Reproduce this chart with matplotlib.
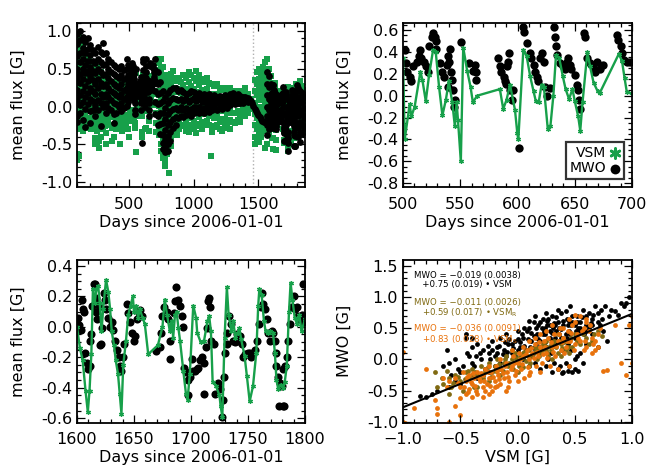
import matplotlib
matplotlib.use("Agg")
import matplotlib.pyplot as plt
from matplotlib.ticker import MultipleLocator, FormatStrFormatter

GREEN = '#17a04a'
OLIVE = '#806a12'
ORANGE = '#e8720c'

# ---- panel b: days 500-700 ----
vsm_b_day = [500, 501.5, 505.8, 507.3, 510.2, 515.2, 517, 519.9, 522.8, 526.3, 528.6, 531.5, 534.4,
             537.4, 540, 543, 545.3, 546.8, 548, 550.5, 552.6, 556, 559, 561, 564.8, 584.6, 587.5,
             590.4, 593.4, 597.8, 599.8, 600.7, 605.1, 608, 611, 614, 616, 618.5, 621, 623, 626.4,
             628.7, 631.3, 633.6, 636.5, 639.5, 642, 645, 648, 650, 653, 654.8, 656.8, 661, 663.3,
             666.4, 670, 671.6, 688.4, 691.2, 693.5, 695.5, 700]
vsm_b_val = [0.34, -0.40, -0.08, -0.19, -0.10, 0.22, 0.14, -0.05, 0.19, 0.42, 0.40, 0.08, -0.18,
             -0.04, 0.13, -0.06, -0.28, -0.06, -0.22, -0.60, 0.44, 0.23, 0.08, -0.06, 0.0, 0.06, -0.12,
             -0.04, 0.10, -0.13, -0.34, -0.40, 0.42, 0.36, 0.18, 0.04, -0.05, -0.06, 0.10, 0.08, -0.30,
             -0.28, 0.0, 0.37, 0.34, 0.18, 0.06, -0.03, 0.06, -0.05, -0.19, -0.32, -0.06, 0.40, 0.27,
             0.12, 0.04, 0.02, 0.38, 0.32, 0.16, 0.03, 0.02]
mwo_b_day = [501.5, 503, 503.5, 506, 507, 509, 514.6, 514, 512, 516, 518, 520, 522, 523, 525, 526,
             528, 528.5, 529, 532, 534, 536, 538, 539, 541, 541.5, 543, 544, 545, 544.4, 540.5, 539.5,
             551, 558, 561, 563, 564, 563.5, 583, 585, 586, 588, 589, 591, 592, 593, 590, 593.5, 595,
             596, 601, 605, 606, 608, 611, 612, 614, 615, 617, 618, 620, 621, 623, 624, 626, 628, 632,
             633, 634, 634.5, 637, 640, 641.6, 643, 644.5, 646, 647, 650, 652, 653, 654, 655, 658, 659,
             661, 663.5, 666, 668, 669, 672, 675, 687, 688, 690, 691, 693, 696, 698]
mwo_b_val = [0.42, 0.30, 0.22, 0.17, 0.13, 0.27, 0.42, 0.36, 0.31, 0.34, 0.31, 0.27, 0.22, 0.45, 0.54,
             0.57, 0.54, 0.50, 0.43, 0.30, 0.22, 0.17, 0.28, 0.36, 0.43, 0.22, 0.14, 0.05, -0.04, -0.10,
             0.31, 0.08, 0.49, 0.30, 0.23, 0.28, 0.22, 0.14, 0.34, 0.27, 0.22, 0.17, 0.13, 0.27, 0.31,
             0.39, 0.11, 0.05, -0.04, 0.05, -0.48, 0.63, 0.58, 0.48, 0.39, 0.34, 0.28, 0.22, 0.17, 0.13,
             0.34, 0.39, 0.31, 0.08, 0.0, 0.07, 0.63, 0.54, 0.45, 0.37, 0.30, 0.27, 0.24, 0.31, 0.34,
             0.28, 0.24, 0.19, 0.10, 0.05, -0.04, -0.12, 0.57, 0.54, 0.34, 0.30, 0.27, 0.22, 0.31, 0.24,
             0.28, 0.55, 0.51, 0.45, 0.39, 0.33, 0.31, 0.31]

# ---- panel c: days 1600-1800 ----
vsm_c_day = [1600, 1602.6, 1605, 1607.5, 1609.5, 1611, 1612.6, 1614, 1615.6, 1617, 1618.6, 1620, 1621.5,
             1623, 1625.5, 1627.5, 1629, 1630.5, 1632.5, 1634, 1636, 1637.5, 1639, 1640.6, 1643, 1645,
             1647, 1649, 1650, 1651.7, 1653.7, 1655, 1657.5, 1659.5, 1662.5, 1671, 1675, 1677, 1679,
             1681.5, 1683, 1684.4, 1686, 1687.4, 1689, 1690.4, 1693.3, 1695.6, 1697, 1699, 1702, 1704.5,
             1705.5, 1708.5, 1711.5, 1714.5, 1716, 1717.5, 1719, 1722, 1725, 1726, 1727.5, 1729.5,
             1731.5, 1733, 1735.5, 1737, 1739, 1741, 1742.5, 1744, 1747, 1749, 1751.5, 1754.4, 1757.3,
             1759, 1760, 1762, 1764, 1765.5, 1767.6, 1769.6, 1772, 1773.6, 1775, 1776.6, 1778.6, 1781,
             1782.3, 1784, 1786, 1787.4, 1789, 1791, 1793, 1795, 1797, 1800]
vsm_c_val = [0.0, -0.14, -0.22, -0.42, -0.56, -0.42, -0.18, 0.25, 0.16, 0.25, 0.27, 0.16, -0.03,
             0.12, 0.31, 0.23, 0.12, -0.03, -0.12, -0.22, -0.31, -0.44, -0.57, -0.25, -0.09, 0.08,
             0.14, 0.20, 0.10, 0.14, 0.06, 0.12, 0.06, 0.02, -0.18, -0.12, 0.0, 0.18, 0.08,
             -0.03, 0.04, -0.07, 0.08, 0.10, -0.01, -0.09, -0.29, -0.44, -0.48, -0.31, 0.14, 0.06,
             -0.04, -0.10, -0.09, 0.04, 0.07, -0.03, -0.36, -0.39, -0.45, -0.52, -0.59, -0.07,
             0.26, 0.08, -0.03, 0.04, -0.07, -0.04, -0.01, -0.08, -0.19, -0.32, -0.49, -0.39, -0.17,
             0.14, 0.25, 0.21, 0.04, -0.03, -0.04, -0.03, -0.04, -0.17, -0.35, -0.41, -0.38, -0.40,
             -0.36, -0.26, 0.10, 0.29, 0.18, 0.06, 0.02, 0.08, -0.03, 0.05]
mwo_c_day = [1600.6, 1602, 1603.5, 1604, 1605, 1606.4, 1607, 1609, 1610, 1611, 1611.7, 1612.6, 1613,
             1614.6, 1616, 1617, 1616.5, 1617.5, 1619, 1620, 1621, 1622, 1623.4, 1625, 1625.7, 1627,
             1629, 1630.7, 1631.5, 1633.6, 1635, 1636.5, 1638, 1639, 1640, 1641, 1644, 1645, 1646.7,
             1648, 1649.6, 1651, 1652.6, 1654, 1655.5, 1657, 1669.5, 1672.4, 1673.6, 1674.5, 1676,
             1679, 1680, 1681.8, 1682, 1684.7, 1686, 1687, 1689, 1690.5, 1692, 1693.4, 1694.3, 1695.5,
             1697, 1697.8, 1699, 1700.7, 1702, 1703.6, 1705, 1706.6, 1708, 1709.5, 1711, 1711.5, 1713,
             1714, 1715, 1716, 1717, 1717.5, 1720, 1721, 1724, 1725.5, 1727, 1728.5, 1729, 1730,
             1731.4, 1732, 1733.7, 1735, 1736.6, 1738.7, 1740, 1741.6, 1743, 1744.5, 1746, 1747.4,
             1749, 1750.4, 1752, 1753, 1754.7, 1756, 1757.7, 1760, 1761, 1762, 1763.5, 1765, 1766.4,
             1768, 1769, 1771, 1772, 1773.7, 1774.6, 1775, 1776.6, 1778, 1779.6, 1776.8, 1780.4,
             1781.6, 1781, 1782.5, 1784, 1785.4, 1787, 1788.3, 1790, 1791, 1792.7, 1794, 1795.6, 1797,
             1798.5, 1798]
mwo_c_val = [0.06, 0.01, -0.02, 0.18, 0.12, 0.10, -0.17, -0.24, -0.28, -0.26, -0.09, -0.05, 0.14,
             0.28, 0.28, 0.19, 0.10, 0.05, 0.14, -0.12, -0.11, -0.01, 0.22, 0.18, 0.12, 0.06,
             0.0, 0.03, -0.02, -0.09, -0.15, -0.20, -0.26, -0.29, -0.20, -0.11, 0.15, 0.09, 0.03,
             -0.04, -0.09, -0.06, 0.05, 0.09, 0.11, 0.07, -0.16, -0.13, -0.04, 0.07, 0.13,
             0.10, 0.05, -0.09, -0.21, 0.09, 0.17, 0.26, 0.18, 0.14, 0.07, 0.0, -0.27, -0.30,
             -0.35, -0.45, -0.33, -0.21, -0.29, -0.29, -0.28, -0.27, -0.22, -0.20, -0.24, -0.44, -0.13,
             -0.01, 0.17, 0.19, 0.13, -0.09, -0.11, -0.44, -0.37, -0.41, -0.59, -0.48, -0.33, -0.17,
             -0.11, -0.04, 0.07, 0.02, -0.09, -0.10, -0.05, -0.09, -0.06, -0.11, -0.20, -0.18,
             -0.18, -0.17, -0.17, -0.20, -0.18, -0.15, -0.09, 0.02, 0.13, 0.22, 0.15, 0.12, 0.05,
             -0.04, -0.09, -0.03, -0.04, -0.09, -0.17, -0.26, -0.33, -0.37, -0.39, -0.52, -0.52,
             -0.52, -0.28, -0.26, -0.20, -0.09, 0.02, 0.13, 0.20, 0.12, 0.13, 0.07, 0.05, 0.08,
             0.28, 0.03]

# ---- panel a: the remaining days of the full record ----
mwo_rest = {
    100: [0.95, 0.82, 0.66, 0.5, 0.38, 0.22, 0.08, -0.12, -0.2],
    120: [1.0, 0.88, 0.7, 0.58, 0.43, 0.31, 0.15, 0.02, -0.08],
    140: [0.92, 0.77, 0.63, 0.49, 0.36, 0.2, 0.06, -0.18],
    160: [0.85, 0.71, 0.55, 0.44, 0.27, 0.12, -0.03, -0.27],
    180: [0.9, 0.76, 0.6, 0.47, 0.33, 0.18, 0.03],
    200: [0.81, 0.68, 0.52, 0.4, 0.25, 0.1, -0.06, -0.22],
    220: [0.74, 0.6, 0.47, 0.35, 0.21, 0.07, -0.04],
    240: [0.7, 0.57, 0.44, 0.29, 0.16, 0.02, -0.12],
    260: [0.78, 0.63, 0.5, 0.36, 0.24, 0.09, -0.05],
    280: [0.72, 0.58, 0.45, 0.31, 0.17, 0.04, -0.26],
    300: [0.83, 0.69, 0.55, 0.41, 0.27, 0.13, 0.0],
    320: [0.7, 0.56, 0.43, 0.3, 0.16, 0.05, -0.08],
    340: [0.62, 0.5, 0.38, 0.24, 0.12, -0.02],
    360: [0.58, 0.46, 0.33, 0.2, 0.08, -0.05],
    380: [0.55, 0.43, 0.3, 0.18, 0.05, -0.1, -0.22],
    400: [0.52, 0.4, 0.27, 0.15, 0.03, -0.08],
    420: [0.5, 0.38, 0.25, 0.12, 0.0],
    440: [0.53, 0.41, 0.29, 0.16, 0.04, -0.06],
    460: [0.48, 0.36, 0.22, 0.1, -0.02],
    480: [0.63, 0.5, 0.37, 0.24, 0.12, 0.01],
    495: [0.55, 0.42, 0.3, 0.18, 0.06],
    700: [0.62, 0.48, 0.34, 0.2, 0.06, -0.1],
    720: [0.45, 0.3, 0.17, 0.03, -0.12, -0.25],
    740: [0.32, 0.18, 0.05, -0.09, -0.23, -0.36],
    760: [0.2, 0.07, -0.08, -0.22, -0.37, -0.48, -0.56],
    780: [0.12, -0.02, -0.17, -0.31, -0.44, -0.53, -0.6],
    800: [0.18, 0.04, -0.1, -0.25, -0.39, -0.5, -0.58],
    820: [0.22, 0.08, -0.06, -0.2, -0.33, -0.45],
    840: [0.25, 0.11, -0.03, -0.16, -0.28],
    860: [0.24, 0.1, -0.02, -0.14, -0.25],
    880: [0.2, 0.08, -0.04, -0.15],
    900: [0.22, 0.1, -0.01, -0.12],
    920: [0.19, 0.07, -0.05, -0.14],
    940: [0.17, 0.1, -0.02, -0.11],
    960: [0.18, 0.06, -0.06],
    980: [0.2, 0.09, -0.03, -0.12],
    1000: [0.19, 0.11, 0.0, -0.08],
    1020: [0.16, 0.07, -0.04],
    1040: [0.18, 0.1, -0.01, -0.09],
    1060: [0.15, 0.06, -0.05],
    1080: [0.17, 0.09, -0.02, -0.08],
    1100: [0.14, 0.05, -0.04],
    1120: [0.16, 0.08, -0.01, -0.07],
    1140: [0.13, 0.05, -0.05],
    1160: [0.15, 0.08, -0.02],
    1180: [0.12, 0.05, -0.04],
    1200: [0.14, 0.07, -0.01],
    1220: [0.13, 0.05, -0.03],
    1240: [0.15, 0.07, 0.0],
    1260: [0.14, 0.06, -0.02],
    1280: [0.16, 0.09, 0.02],
    1300: [0.18, 0.11, 0.04],
    1320: [0.15, 0.09, 0.03],
    1340: [0.16, 0.11, 0.05],
    1360: [0.14, 0.09, 0.04],
    1380: [0.13, 0.09, 0.05],
    1400: [0.12, 0.07], 1420: [0.11, 0.06], 1430: [0.1], 1440: [0.07], 1450: [0.04],
    1460: [0.01], 1470: [-0.03], 1480: [-0.06], 1490: [-0.09], 1500: [-0.11], 1510: [-0.14],
    1520: [-0.17], 1530: [-0.19], 1540: [-0.2], 1550: [-0.21],
    1565: [0.45, 0.3, 0.15, 0.0, -0.12, -0.25, -0.37],
    1580: [0.4, 0.26, 0.1, -0.05, -0.18, -0.3],
    1595: [0.3, 0.16, 0.02, -0.1, -0.22],
    1810: [0.25, 0.12, 0.0, -0.13, -0.27, -0.4],
    1825: [0.2, 0.07, -0.06, -0.2, -0.33, -0.47],
    1840: [0.18, 0.04, -0.1, -0.23, -0.36],
    1855: [0.12, -0.02, -0.15, -0.28],
}
vsm_rest = {
    100: [0.92, 0.8, 0.66, 0.52, 0.38, 0.24, 0.1, -0.05, -0.18, -0.3, -0.62, -0.7],
    115: [0.95, 0.83, 0.7, 0.57, 0.43, 0.3, 0.16, 0.02, -0.12, -0.25, -0.65],
    130: [0.86, 0.73, 0.6, 0.46, 0.33, 0.19, 0.05, -0.08, -0.22],
    145: [0.78, 0.64, 0.5, 0.37, 0.23, 0.09, -0.05, -0.19, -0.32],
    160: [0.72, 0.58, 0.44, 0.31, 0.17, 0.03, -0.11, -0.24],
    175: [0.63, 0.5, 0.36, 0.22, 0.08, -0.06, -0.2],
    190: [0.67, 0.53, 0.39, 0.25, 0.11, -0.03, -0.17, -0.28],
    205: [0.55, 0.41, 0.27, 0.13, -0.01, -0.15, -0.29],
    220: [0.58, 0.44, 0.3, 0.16, 0.02, -0.12, -0.24],
    235: [0.48, 0.34, 0.2, 0.06, -0.08, -0.22, -0.42, -0.5],
    250: [0.52, 0.38, 0.24, 0.1, -0.04, -0.18, -0.32, -0.48],
    265: [0.43, 0.29, 0.15, 0.01, -0.13, -0.27, -0.45, -0.55],
    280: [0.46, 0.32, 0.18, 0.04, -0.1, -0.24, -0.4],
    295: [0.38, 0.24, 0.1, -0.04, -0.18, -0.3],
    310: [0.42, 0.28, 0.14, 0.0, -0.14, -0.26],
    325: [0.33, 0.19, 0.05, -0.09, -0.23, -0.35, -0.5],
    340: [0.37, 0.23, 0.09, -0.05, -0.19],
    355: [0.31, 0.17, 0.03, -0.11, -0.25],
    370: [0.28, 0.14, 0.0, -0.14, -0.28, -0.45],
    385: [0.32, 0.18, 0.04, -0.1, -0.24, -0.4],
    400: [0.24, 0.1, -0.04, -0.18, -0.3],
    415: [0.27, 0.13, -0.01, -0.15, -0.27],
    430: [0.3, 0.16, 0.02, -0.12, -0.26, -0.5],
    445: [0.23, 0.09, -0.05, -0.19, -0.32],
    460: [0.26, 0.12, -0.02, -0.16, -0.28],
    475: [0.31, 0.17, 0.03, -0.11, -0.23],
    490: [0.27, 0.13, -0.01, -0.15, -0.29],
    705: [0.48, 0.34, 0.2, 0.06, -0.08, -0.22, -0.34],
    720: [0.62, 0.48, 0.34, 0.2, 0.06, -0.08, -0.22],
    735: [0.57, 0.43, 0.29, 0.15, 0.01, -0.13, -0.27, -0.38],
    750: [0.63, 0.49, 0.35, 0.21, 0.07, -0.07, -0.21, -0.35, -0.5, -0.58],
    765: [0.52, 0.38, 0.24, 0.1, -0.04, -0.18, -0.32, -0.46, -0.6, -0.68],
    780: [0.42, 0.28, 0.14, 0.0, -0.14, -0.28, -0.42, -0.56, -0.7, -0.78],
    795: [0.33, 0.19, 0.05, -0.09, -0.23, -0.37, -0.51, -0.62],
    810: [0.38, 0.24, 0.1, -0.04, -0.18, -0.32, -0.46, -0.87],
    825: [0.43, 0.29, 0.15, 0.01, -0.13, -0.27, -0.41, -0.52],
    840: [0.47, 0.33, 0.19, 0.05, -0.09, -0.23, -0.37],
    855: [0.38, 0.24, 0.1, -0.04, -0.18, -0.32],
    870: [0.33, 0.19, 0.05, -0.09, -0.23, -0.38],
    885: [0.37, 0.23, 0.09, -0.05, -0.19, -0.3],
    900: [0.32, 0.18, 0.04, -0.1, -0.24],
    920: [0.42, 0.28, 0.14, 0.0, -0.14, -0.26],
    940: [0.37, 0.23, 0.09, -0.05, -0.19, -0.32],
    960: [0.46, 0.32, 0.18, 0.04, -0.1, -0.24, -0.33],
    980: [0.41, 0.27, 0.13, -0.01, -0.15, -0.27],
    1000: [0.37, 0.23, 0.09, -0.05, -0.19, -0.3],
    1020: [0.47, 0.33, 0.19, 0.05, -0.09, -0.23, -0.35],
    1040: [0.42, 0.28, 0.14, 0.0, -0.14, -0.26],
    1060: [0.36, 0.22, 0.08, -0.06, -0.2, -0.3],
    1080: [0.32, 0.18, 0.04, -0.1, -0.24],
    1100: [0.37, 0.23, 0.09, -0.05, -0.19],
    1120: [0.31, 0.17, 0.03, -0.11, -0.25],
    1135: [-0.65],
    1140: [0.3, 0.16, 0.02, -0.12, -0.26, -0.34],
    1160: [0.27, 0.13, -0.01, -0.15, -0.27],
    1180: [0.3, 0.16, 0.02, -0.12, -0.25],
    1200: [0.25, 0.11, -0.03, -0.17, -0.3],
    1220: [0.22, 0.08, -0.06, -0.2, -0.32],
    1240: [0.25, 0.11, -0.03, -0.17, -0.28],
    1260: [0.2, 0.06, -0.08, -0.22],
    1280: [0.24, 0.1, -0.04, -0.18, -0.3],
    1300: [0.2, 0.06, -0.08, -0.2],
    1320: [0.19, 0.05, -0.09, -0.22],
    1340: [0.2, 0.07, -0.06, -0.18],
    1360: [0.16, 0.03, -0.1, -0.2],
    1380: [0.2, 0.08, -0.05, -0.12],
    1400: [0.25, 0.12, 0.0, -0.12],
    1420: [0.16, 0.05, -0.08],
    1440: [0.1, -0.03],
    1460: [0.02],
    1475: [0.35, 0.2, 0.05, -0.1, -0.25, -0.4, -0.5],
    1490: [0.45, 0.3, 0.15, 0.0, -0.15, -0.3, -0.42],
    1505: [0.5, 0.36, 0.22, 0.08, -0.06, -0.2, -0.34, -0.47],
    1520: [0.42, 0.28, 0.14, 0.0, -0.14, -0.28, -0.4],
    1535: [0.52, 0.38, 0.24, 0.1, -0.04, -0.18, -0.32],
    1550: [0.58, 0.44, 0.3, 0.16, 0.02, -0.12, -0.26, -0.55],
    1565: [0.62, 0.48, 0.34, 0.2, 0.06, -0.08, -0.22, -0.5],
    1580: [0.5, 0.36, 0.22, 0.08, -0.06, -0.2, -0.34],
    1595: [0.4, 0.26, 0.12, -0.02, -0.16, -0.3],
    1810: [0.3, 0.16, 0.02, -0.12, -0.26, -0.4],
    1825: [0.33, 0.19, 0.05, -0.09, -0.23, -0.37],
    1840: [0.27, 0.13, -0.01, -0.15, -0.29],
    1855: [0.22, 0.08, -0.06, -0.2, -0.34],
}
gap_day = 1461

# ---- panel d: MWO vs VSM ----
blk_x = [-0.85, -0.8, -0.75, -0.7, -0.65, -0.6, -0.55, -0.5, -0.45, -0.42, -0.4, -0.38, -0.35, -0.32,
         -0.3, -0.28, -0.25, -0.22, -0.2, -0.18, -0.15, -0.12, -0.1, -0.08, -0.05, -0.02, 0.0, 0.02,
         0.05, 0.07, 0.1, 0.12, 0.14, 0.15, 0.17, 0.18, 0.2, 0.22, 0.23, 0.25, 0.26, 0.28, 0.3, 0.31,
         0.33, 0.35, 0.36, 0.38, 0.4, 0.41, 0.43, 0.45, 0.46, 0.48, 0.5, 0.52, 0.53, 0.55, 0.57, 0.6,
         0.62, 0.65, 0.68, 0.7, 0.73, 0.76, 0.8, 0.85, 0.9, 0.93, 0.97,
         0.1, 0.15, 0.2, 0.25, 0.3, 0.35, 0.4, 0.45, 0.48, 0.5, 0.55, 0.6, 0.65, 0.7, 0.75, 0.78,
         0.05, 0.0, -0.05, 0.08, 0.13, 0.19, 0.24, 0.29, 0.34, 0.39, 0.44, 0.47, 0.51, 0.21, 0.27,
         0.33, 0.37, 0.42, 0.16, 0.11, -0.15, -0.1, -0.2, -0.3, -0.35, -0.25, -0.6, -0.5, -0.55,
         0.02, 0.04, 0.06, 0.09, 0.12, 0.14, 0.16, 0.18, 0.2, 0.22, 0.24, 0.26, 0.28, 0.3, 0.32, 0.34,
         0.36, 0.38, 0.4, 0.42, 0.44, 0.46, 0.48, 0.5, 0.52, 0.54, 0.56, 0.58, 0.6, 0.62, 0.64, 0.66,
         0.7, 0.72, 0.74, 0.82, 0.88, 0.95, -0.02, -0.04, -0.07, -0.09, -0.11, -0.13, -0.16, -0.18,
         -0.22, -0.24, -0.26, -0.33, -0.36, -0.4, -0.44, -0.48, -0.52, -0.58, -0.62, -0.45, -0.4,
         0.1, 0.15, 0.25, 0.35, 0.28, 0.38, 0.2, 0.3, 0.45, 0.55, 0.6, 0.65, 0.43, 0.33, 0.24, 0.14,
         0.06, 0.0, 0.47, 0.52, 0.57, 0.42, 0.37, 0.32, 0.27, 0.5, 0.53, 0.44, 0.39]
blk_y = [-0.58, -0.6, -0.55, -0.5, -0.1, -0.05, 0.0, -0.2, 0.35, 0.05, 0.2, -0.1, 0.25, 0.0,
         0.15, -0.15, 0.1, 0.3, 0.05, 0.2, 0.35, 0.15, 0.4, 0.25, 0.1, 0.3, 0.45, 0.2,
         0.35, 0.15, 0.5, 0.3, 0.6, 0.2, 0.4, 0.55, 0.3, 0.65, 0.45, 0.2, 0.55, 0.35, 0.7, 0.5,
         0.25, 0.6, 0.4, 0.75, 0.55, 0.3, 0.65, 0.45, 0.85, 0.6, 0.35, 0.7, 0.5, 0.6, 0.8, 0.55,
         0.75, 0.65, 0.85, 0.6, 0.8, 0.85, 0.7, 0.78, 0.9, 0.85, 1.0,
         -0.1, -0.05, -0.15, -0.1, -0.2, -0.15, -0.2, -0.1, -0.2, 0.0, 0.1, 0.25, 0.4, 0.2, 0.45, 0.3,
         0.0, 0.15, 0.25, 0.45, 0.05, 0.1, 0.4, 0.1, 0.45, 0.15, 0.25, 0.55, 0.45, 0.5, 0.65,
         0.55, 0.3, 0.4, 0.25, 0.2, -0.05, 0.05, -0.1, -0.25, -0.3, -0.2, -0.45, -0.4, -0.35,
         0.28, 0.4, 0.22, 0.32, 0.42, 0.18, 0.5, 0.33, 0.6, 0.4, 0.28, 0.62, 0.45, 0.3, 0.58, 0.68,
         0.5, 0.35, 0.62, 0.78, 0.55, 0.4, 0.7, 0.55, 0.6, 0.45, 0.68, 0.4, 0.7, 0.5, 0.58, 0.72,
         0.75, 0.55, 0.65, 0.8, 0.72, 0.9, 0.05, 0.18, 0.32, 0.12, 0.28, 0.08, 0.22, 0.1,
         0.15, 0.0, 0.22, 0.1, 0.05, -0.05, 0.1, -0.1, -0.15, -0.25, 0.15, 0.4, 0.35,
         0.62, 0.7, 0.75, 0.8, 0.55, 0.48, 0.2, 0.42, 0.62, 0.5, 0.45, 0.55, 0.35, 0.35, 0.5, 0.38,
         0.5, 0.32, 0.15, 0.05, -0.05, -0.05, -0.1, -0.05, 0.0, -0.15, -0.18, -0.18, -0.22]
olv_x = [-0.7, -0.65, -0.6, -0.55, -0.5, -0.45, -0.42, -0.4, -0.38, -0.35, -0.32, -0.3, -0.28, -0.25,
         -0.22, -0.2, -0.18, -0.15, -0.12, -0.1, -0.08, -0.05, -0.02, 0.0, 0.02, 0.05, 0.07, 0.1,
         0.12, 0.15, 0.17, 0.2, 0.22, 0.25, 0.27, 0.3, 0.32, 0.35, 0.38, 0.4, 0.42, 0.45, 0.48, 0.5,
         0.55, 0.6, 0.65, 0.7, -0.6, -0.48, -0.35, -0.25, -0.15, 0.0, 0.1, 0.3, 0.45, -0.72, -0.62,
         0.25, 0.35, -0.05, 0.05, 0.18, 0.28, 0.38,
         -0.56, -0.52, -0.46, -0.43, -0.37, -0.33, -0.29, -0.26, -0.23, -0.19, -0.16, -0.13, -0.11,
         -0.07, -0.04, -0.01, 0.01, 0.04, 0.06, 0.09, 0.11, 0.14, 0.16, 0.19, 0.21, 0.24, 0.26, 0.29,
         0.31, 0.34, 0.36, 0.39, 0.41, 0.44, 0.47, 0.52, 0.57, 0.62, 0.67, 0.74, -0.66, -0.58, -0.4]
olv_y = [-0.45, -0.4, -0.3, -0.25, -0.35, -0.2, -0.3, -0.15, -0.45, -0.25, -0.1, -0.3, -0.15, -0.05,
         -0.2, -0.1, 0.0, -0.15, -0.05, 0.05, -0.1, 0.0, 0.1, -0.05, 0.05, 0.1, -0.02, 0.15,
         0.05, 0.2, 0.0, 0.1, 0.25, 0.15, 0.05, 0.2, 0.3, 0.1, 0.25, 0.35, 0.15, 0.3, 0.2, 0.4,
         0.25, 0.35, 0.3, 0.45, -0.55, -0.5, -0.45, -0.35, -0.25, -0.2, -0.1, 0.0, 0.1, -0.2, -0.18,
         0.3, 0.4, 0.15, -0.12, 0.18, 0.22, 0.05,
         -0.38, -0.28, -0.32, -0.18, -0.2, -0.28, -0.22, -0.12, -0.28, -0.18, -0.08, -0.18, 0.0,
         -0.05, -0.15, 0.03, -0.1, 0.02, 0.12, 0.05, -0.05, 0.1, 0.15, 0.05, 0.15, 0.22, 0.1, 0.15,
         0.25, 0.2, 0.3, 0.18, 0.28, 0.2, 0.35, 0.3, 0.4, 0.25, 0.4, 0.38, -0.3, -0.45, -0.25]
org_x = [-1.0, -1.0, -0.98, -0.9, -0.8, -0.72, -0.7, -0.7, -0.65, -0.6, -0.55, -0.5, -0.45, -0.42,
         -0.5, 0.75, 0.78, 0.9, 0.95, 0.97, 1.0, 1.0, 1.0, 0.6, 0.65, 0.7, 0.55, 0.5, 0.45, 0.85,
         -0.45, -0.42, -0.4, -0.38, -0.36, -0.35, -0.33, -0.3, -0.3, -0.28, -0.27, -0.25, -0.23,
         -0.22, -0.2, -0.19, -0.17, -0.15, -0.14, -0.12, -0.1, -0.09, -0.07, -0.05, -0.04, -0.02,
         0.0, 0.01, 0.03, 0.05, 0.06, 0.08, 0.1, 0.11, 0.13, 0.15, 0.16, 0.18, 0.2, 0.21, 0.23,
         0.25, 0.27, 0.28, 0.3, 0.32, 0.33, 0.35, 0.37, 0.38, 0.4, 0.42, 0.44, 0.46, 0.48, 0.5,
         0.52, 0.55, 0.58, 0.6, 0.62, 0.65, 0.68, 0.72, -0.55, -0.5, -0.48, -0.6, -0.62, -0.4,
         -0.3, -0.25, -0.2, -0.1, 0.0, -0.05, 0.1, 0.2, 0.3, 0.35, 0.45, 0.2, 0.1,
         -0.44, -0.41, -0.39, -0.37, -0.34, -0.32, -0.29, -0.26, -0.24, -0.21, -0.18, -0.16, -0.13,
         -0.11, -0.08, -0.06, -0.03, -0.01, 0.02, 0.04, 0.07, 0.09, 0.12, 0.14, 0.17, 0.19, 0.22,
         0.24, 0.26, 0.29, 0.31, 0.34, 0.36, 0.39, 0.41, 0.43, 0.47, 0.49, 0.53, 0.56, 0.59, 0.63,
         0.66, 0.7, -0.52, -0.47, -0.43, -0.35, -0.28, -0.18, -0.08, -0.15, -0.25, 0.05, 0.15, 0.25,
         0.4, 0.5, 0.6, 0.58, 0.68]
org_y = [0.12, -1.0, -1.02, -0.78, -0.15, -0.65, -0.78, -0.88, -0.3, -1.0, -0.75, -0.9, -0.55, -0.48,
         -0.62, -0.18, -0.17, -0.05, -0.25, 0.55, 0.7, 0.2, -0.05, 0.6, 0.35, 0.2, 0.7, 0.72, 0.65, 0.55,
         -0.35, -0.25, -0.4, -0.3, -0.5, -0.2, -0.35, -0.45, -0.25, -0.15, -0.4, -0.3, -0.2,
         -0.5, -0.35, -0.1, -0.25, -0.4, -0.15, -0.3, -0.05, -0.2, -0.35, -0.1, 0.05, -0.25,
         -0.05, 0.1, -0.15, 0.05, -0.3, 0.15, 0.0, -0.2, 0.1, 0.25, -0.1, 0.05, 0.2, -0.05, 0.3,
         0.1, 0.35, -0.1, 0.2, 0.4, 0.05, 0.3, 0.5, 0.15, 0.35, 0.2, 0.45, 0.3, 0.55, 0.25,
         0.4, 0.3, 0.5, 0.2, 0.45, 0.1, 0.3, 0.5, -0.3, -0.45, -0.2, -0.35, -0.45, -0.6,
         -0.6, -0.55, -0.45, -0.5, -0.35, 0.15, 0.3, 0.4, 0.55, -0.15, -0.1, -0.2, -0.25,
         -0.28, -0.36, -0.22, -0.42, -0.3, -0.22, -0.35, -0.2, -0.42, -0.28, -0.18, -0.32, -0.22,
         -0.1, -0.28, -0.15, -0.05, -0.18, 0.0, -0.08, 0.08, -0.12, 0.18, 0.02, 0.12, 0.28, 0.08,
         0.2, 0.02, 0.28, 0.12, 0.22, 0.4, 0.28, 0.1, 0.3, 0.42, 0.15, 0.35, 0.45, 0.3, 0.55,
         0.25, 0.4, -0.38, -0.45, -0.52, -0.55, -0.5, -0.42, -0.45, 0.0, -0.1, 0.2, 0.35, 0.45,
         0.5, 0.6, 0.65, 0.15, 0.15]
fit_a, fit_b = -0.019, 0.75
fit_labels = [("MWO = \u22120.019 (0.0038)\n   +0.75 (0.019) \u2022 VSM", 'black'),
              ("MWO = \u22120.011 (0.0026)\n   +0.59 (0.017) \u2022 VSM$_\\mathregular{R}$", OLIVE),
              ("MWO = \u22120.036 (0.0091)\n   +0.83 (0.028) \u2022 VSM$_\\mathregular{S}$", ORANGE)]


def flatten(d):
    xs = [k for k, vs in d.items() for v in vs]
    ys = [v for k, vs in d.items() for v in vs]
    return xs, ys


def style(ax, xmaj, xmin, ymaj, ymin, yfmt):
    ax.xaxis.set_major_locator(MultipleLocator(xmaj))
    ax.xaxis.set_minor_locator(MultipleLocator(xmin))
    ax.yaxis.set_major_locator(MultipleLocator(ymaj))
    ax.yaxis.set_minor_locator(MultipleLocator(ymin))
    ax.yaxis.set_major_formatter(FormatStrFormatter(yfmt))
    ax.tick_params(which='both', direction='in', top=True, right=True, labelsize=11.5, width=0.9)
    ax.tick_params(which='major', length=6)
    ax.tick_params(which='minor', length=3)
    ax.tick_params(axis='y', pad=3.5)
    ax.tick_params(axis='x', pad=7)
    for s in ax.spines.values():
        s.set_linewidth(1.3)
        s.set_zorder(5)


plt.rcParams['font.family'] = 'DejaVu Sans'
fig = plt.figure(figsize=(6.54, 4.72), dpi=100)
ax_a = fig.add_axes([0.1177, 0.6038, 0.3486, 0.3475])
ax_b = fig.add_axes([0.6162, 0.6038, 0.3502, 0.3475])
ax_c = fig.add_axes([0.1177, 0.1045, 0.3486, 0.3447])
ax_d = fig.add_axes([0.6162, 0.1045, 0.3502, 0.3447])

# panel a: VSM squares first, MWO dots over them
vx, vy = flatten(vsm_rest)
mx, my = flatten(mwo_rest)
ax_a.scatter(vx + vsm_b_day + vsm_c_day, vy + vsm_b_val + vsm_c_val, s=15, marker='s', color=GREEN,
             lw=0, zorder=2)
ax_a.scatter(mx + mwo_b_day + mwo_c_day, my + mwo_b_val + mwo_c_val, s=24, color='black', lw=0, zorder=3)
ax_a.axvline(gap_day, color='#b0b0b0', ls=':', lw=1, zorder=1)
ax_a.set_xlim(97, 1860)
ax_a.set_ylim(-1.06, 1.1)
style(ax_a, 500, 100, 0.5, 0.1, '%.1f')

# panel b
ax_b.scatter(mwo_b_day, mwo_b_val, s=36, color='black', lw=0)
ax_b.plot(vsm_b_day, vsm_b_val, color=GREEN, lw=1.7, marker=(6, 2, 0), ms=3.5, mew=0.9)
ax_b.set_xlim(500, 700)
ax_b.set_ylim(-0.834, 0.664)
style(ax_b, 50, 10, 0.2, 0.05, '%.1f')
hv = ax_b.scatter([], [], s=50, marker=(6, 2, 0), color=GREEN, lw=2)
hm = ax_b.scatter([], [], s=50, color='black', lw=0)
leg = ax_b.legend([hv, hm], ['VSM', 'MWO'], loc='lower right', markerfirst=False, fontsize=10,
                  frameon=True, fancybox=False, handlelength=0.7, handletextpad=0.3,
                  borderpad=0.25, labelspacing=0.1, borderaxespad=0.6)
leg.get_frame().set_edgecolor('black')
leg.get_frame().set_linewidth(1.6)

# panel c
ax_c.scatter(mwo_c_day, mwo_c_val, s=34, color='black', lw=0)
ax_c.plot(vsm_c_day, vsm_c_val, color=GREEN, lw=1.7, marker=(6, 2, 0), ms=3.5, mew=0.9)
ax_c.set_xlim(1600, 1800)
ax_c.set_ylim(-0.63, 0.44)
style(ax_c, 50, 10, 0.2, 0.05, '%.1f')

# panel d
ax_d.scatter(blk_x, blk_y, s=12, color='black', lw=0)
ax_d.scatter(olv_x, olv_y, s=12, color=OLIVE, lw=0)
ax_d.scatter(org_x, org_y, s=12, color=ORANGE, lw=0)
ax_d.plot([-1, 1], [fit_a - fit_b, fit_a + fit_b], color='black', lw=1.5)
ax_d.set_xlim(-1, 1)
ax_d.set_ylim(-1.016, 1.596)
style(ax_d, 0.5, 0.1, 0.5, 0.1, '%.1f')
for i, (txt, col) in enumerate(fit_labels):
    ax_d.text(0.05, 0.93 - i * 0.163, txt, transform=ax_d.transAxes, fontsize=6.2, color=col,
              va='top', ha='left', linespacing=1.0)

for ax in (ax_a, ax_b, ax_c):
    ax.set_ylabel('mean flux [G]', fontsize=11.5, labelpad=11)
    ax.set_xlabel('Days since 2006-01-01', fontsize=11.5, labelpad=2)
ax_d.set_ylabel('MWO [G]', fontsize=11.5, labelpad=11)
ax_d.set_xlabel('VSM [G]', fontsize=11.5, labelpad=2)

fig.savefig('out.png', dpi=100)
